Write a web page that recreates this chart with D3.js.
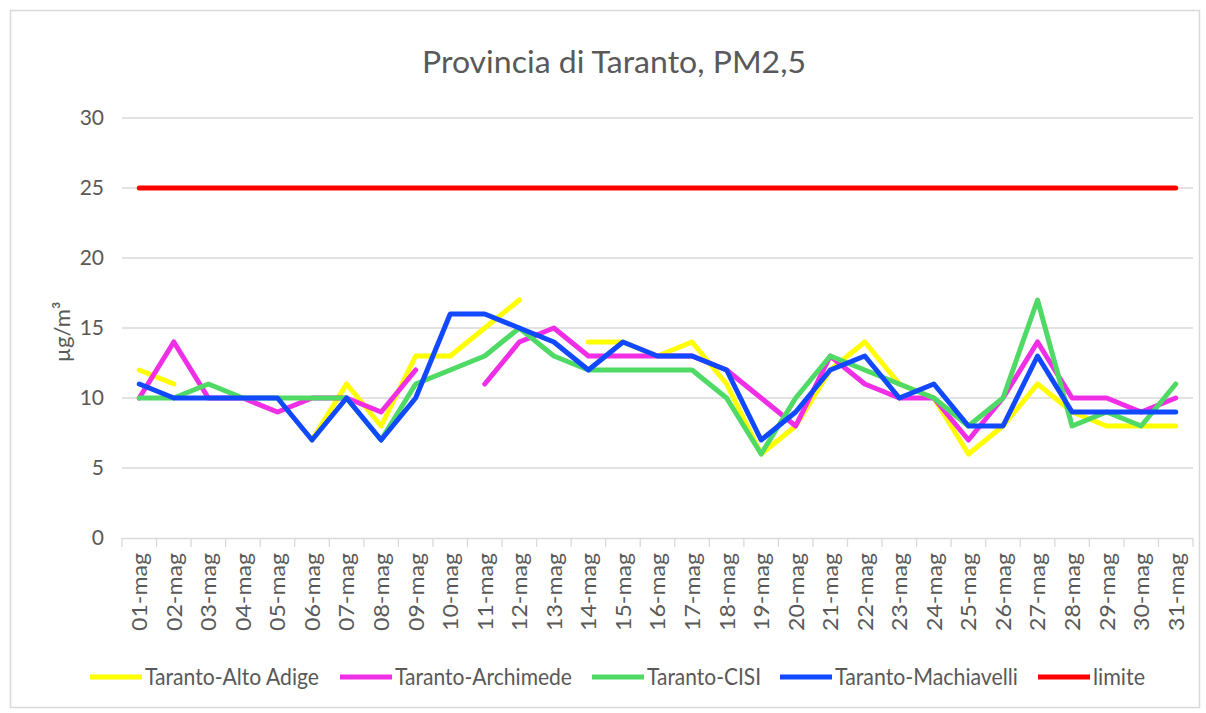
<!DOCTYPE html>
<html><head><meta charset="utf-8">
<script src="https://cdn.jsdelivr.net/npm/d3@7"></script>
<style>
html,body{margin:0;padding:0;background:#fff;}
text{font-family:Lato,"Open Sans",sans-serif;fill:#595959;}
</style></head>
<body>
<svg id="chart" width="1206" height="713"></svg>
<script>
const days = ["01-mag","02-mag","03-mag","04-mag","05-mag","06-mag","07-mag","08-mag","09-mag","10-mag","11-mag","12-mag","13-mag","14-mag","15-mag","16-mag","17-mag","18-mag","19-mag","20-mag","21-mag","22-mag","23-mag","24-mag","25-mag","26-mag","27-mag","28-mag","29-mag","30-mag","31-mag"];
const altoAdige   = [12,11,null,null,null,7,11,8,13,13,15,17,null,14,14,13,14,11,6,8,12,14,11,10,6,8,11,9,8,8,8];
const archimede   = [10,14,10,10,9,10,10,9,12,null,11,14,15,13,13,13,13,12,10,8,13,11,10,10,7,10,14,10,10,9,10];
const cisi        = [10,10,11,10,10,10,10,7,11,12,13,15,13,12,12,12,12,10,6,10,13,12,11,10,8,10,17,8,9,8,11];
const machiavelli = [11,10,10,10,10,7,10,7,10,16,16,15,14,12,14,13,13,12,7,9,12,13,10,11,8,8,13,9,9,9,9];
const limite      = days.map(() => 25);
const yTicks = [0,5,10,15,20,25,30];
const seriesNames = ["Taranto-Alto Adige","Taranto-Archimede","Taranto-CISI","Taranto-Machiavelli","limite"];
const seriesColors = ["#ffff00","#f02ee6","#4fd965","#1049ff","#ff0000"];
const seriesData = [altoAdige, archimede, cisi, machiavelli, limite];

const svg = d3.select("#chart");
svg.append("rect").attr("x",10.5).attr("y",10.5).attr("width",1189).attr("height",697)
  .attr("fill","#fff").attr("stroke","#d9d9d9").attr("stroke-width",1.5);

const x = d3.scaleBand().domain(days).range([122,1193]).padding(0);
const y = d3.scaleLinear().domain([0,30]).range([538,118]);
const cx = d => x(d) + x.bandwidth()/2;

// title
svg.append("text").attr("x",614).attr("y",73).attr("text-anchor","middle")
  .attr("font-size",31).attr("textLength",384).attr("lengthAdjust","spacingAndGlyphs")
  .text("Provincia di Taranto, PM2,5");

// gridlines
svg.append("g").selectAll("line").data(yTicks.filter(t=>t>0)).join("line")
  .attr("x1",122).attr("x2",1193).attr("y1",d=>y(d)).attr("y2",d=>y(d))
  .attr("stroke","#d9d9d9").attr("stroke-width",1.3);

// y axis labels
const yAxis = d3.axisLeft(y).tickValues(yTicks).tickSize(0).tickPadding(0);
const gy = svg.append("g").attr("transform","translate(104,0)").call(yAxis);
gy.select(".domain").remove();
gy.selectAll("text").attr("font-size",21).attr("fill","#595959")
  .attr("font-family","Lato, 'Open Sans', sans-serif");

// x axis
const xTickPos = days.map(d=>x(d)).concat([1193]);
const gx = svg.append("g");
gx.append("line").attr("x1",122).attr("x2",1193).attr("y1",538.5).attr("y2",538.5)
  .attr("stroke","#d9d9d9").attr("stroke-width",1.3);
gx.selectAll("line.tk").data(xTickPos).join("line").attr("class","tk")
  .attr("x1",d=>d).attr("x2",d=>d).attr("y1",538).attr("y2",547)
  .attr("stroke","#d9d9d9").attr("stroke-width",1.3);
gx.selectAll("text").data(days).join("text")
  .attr("transform",d=>`translate(${cx(d)},553) rotate(-90)`)
  .attr("text-anchor","end").attr("dy","0.36em")
  .attr("font-size",22).attr("textLength",78).attr("lengthAdjust","spacingAndGlyphs")
  .text(d=>d);

// y axis title
svg.append("text").attr("transform","translate(62,332) rotate(-90)")
  .attr("text-anchor","middle").attr("dy","0.36em").attr("font-size",22)
  .text("µg/m³");

// lines
const line = d3.line().defined(v=>v!==null).x((v,i)=>cx(days[i])).y(v=>y(v));
svg.append("g").selectAll("path").data(seriesData).join("path")
  .attr("d",d=>line(d)).attr("fill","none")
  .attr("stroke",(d,i)=>seriesColors[i]).attr("stroke-width",5)
  .attr("stroke-linejoin","round").attr("stroke-linecap","round");

// legend
const legX = [90,340,592,780,1038];
const legW = [174,177,114,183,52];
const lg = svg.append("g").selectAll("g").data(seriesNames).join("g")
  .attr("transform",(d,i)=>`translate(${legX[i]},677)`);
lg.append("line").attr("x1",0).attr("x2",52).attr("y1",0).attr("y2",0)
  .attr("stroke",(d,i)=>seriesColors[i]).attr("stroke-width",5);
lg.append("text").attr("x",55).attr("dy","0.36em").attr("font-size",23)
  .attr("textLength",(d,i)=>legW[i]).attr("lengthAdjust","spacingAndGlyphs")
  .text(d=>d);
</script>
</body></html>
